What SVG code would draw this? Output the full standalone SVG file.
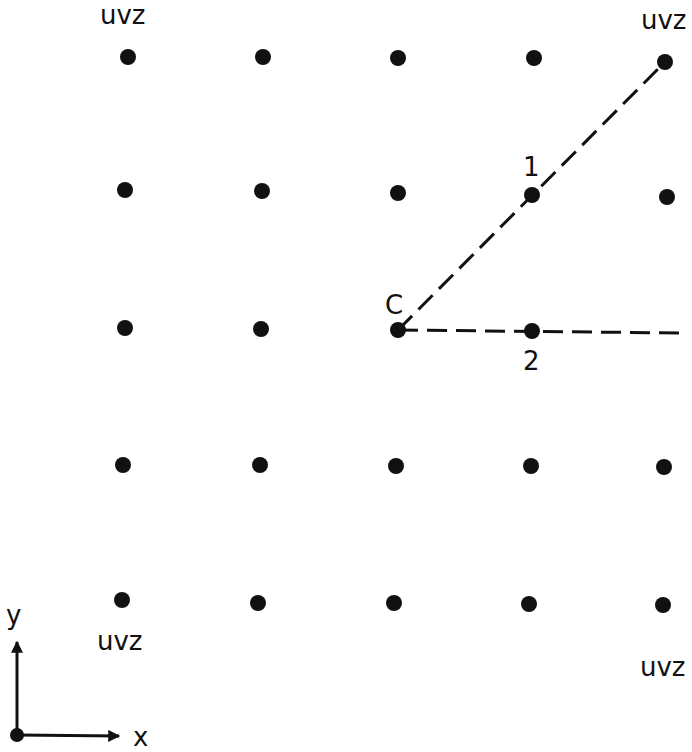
<svg xmlns="http://www.w3.org/2000/svg" width="692" height="752" viewBox="0 0 692 752">
<style>
.dot{fill:#111}
.lbl{font-family:"DejaVu Sans",Verdana,sans-serif;font-size:26px;fill:#111}
.dash{stroke:#111;stroke-width:3;fill:none;stroke-dasharray:20 9}
.ax{stroke:#111;stroke-width:3;fill:none}
</style>
<defs>
<marker id="ah" viewBox="0 0 10 10" refX="9" refY="5" markerWidth="5" markerHeight="4" orient="auto"><path d="M0,0L10,5L0,10z" fill="#111"/></marker>
</defs>
<g id="connectors">
<line class="dash" x1="398" y1="330" x2="665" y2="62"/>
<line class="dash" x1="398" y1="330" x2="682" y2="333"/>
<line class="ax" x1="17" y1="735" x2="17" y2="642" marker-end="url(#ah)"/>
<line class="ax" x1="17" y1="735" x2="119" y2="736" marker-end="url(#ah)"/>
</g>
<g id="grid">
<circle class="dot" cx="128" cy="57" r="8"/>
<circle class="dot" cx="263" cy="57" r="8"/>
<circle class="dot" cx="398" cy="58" r="8"/>
<circle class="dot" cx="534" cy="58" r="8"/>
<circle class="dot" cx="125" cy="190" r="8"/>
<circle class="dot" cx="262" cy="191" r="8"/>
<circle class="dot" cx="398" cy="193" r="8"/>
<circle class="dot" cx="667" cy="197" r="8"/>
<circle class="dot" cx="125" cy="328" r="8"/>
<circle class="dot" cx="261" cy="329" r="8"/>
<circle class="dot" cx="123" cy="465" r="8"/>
<circle class="dot" cx="260" cy="465" r="8"/>
<circle class="dot" cx="396" cy="466" r="8"/>
<circle class="dot" cx="531" cy="466" r="8"/>
<circle class="dot" cx="664" cy="467" r="8"/>
<circle class="dot" cx="258" cy="603" r="8"/>
<circle class="dot" cx="394" cy="603" r="8"/>
<circle class="dot" cx="529" cy="604" r="8"/>
</g>
<g id="node-uvz-tl"><text class="lbl" x="100" y="24">uvz</text></g>
<g id="node-uvz-tr"><circle class="dot" cx="665" cy="62" r="8"/><text class="lbl" x="641" y="29">uvz</text></g>
<g id="node-uvz-bl"><circle class="dot" cx="122" cy="600" r="8"/><text class="lbl" x="97" y="650">uvz</text></g>
<g id="node-uvz-br"><circle class="dot" cx="663" cy="605" r="8"/><text class="lbl" x="640" y="676">uvz</text></g>
<g id="node-1"><circle class="dot" cx="532" cy="195" r="8"/><text class="lbl" x="523" y="176">1</text></g>
<g id="node-2"><circle class="dot" cx="532" cy="331" r="8"/><text class="lbl" x="523" y="370">2</text></g>
<g id="node-C"><circle class="dot" cx="398" cy="330" r="8"/><text class="lbl" x="385" y="314">C</text></g>
<g id="node-origin"><circle class="dot" cx="17" cy="735" r="7"/></g>
<text class="lbl" x="6" y="624">y</text>
<text class="lbl" x="133" y="746">x</text>
</svg>
